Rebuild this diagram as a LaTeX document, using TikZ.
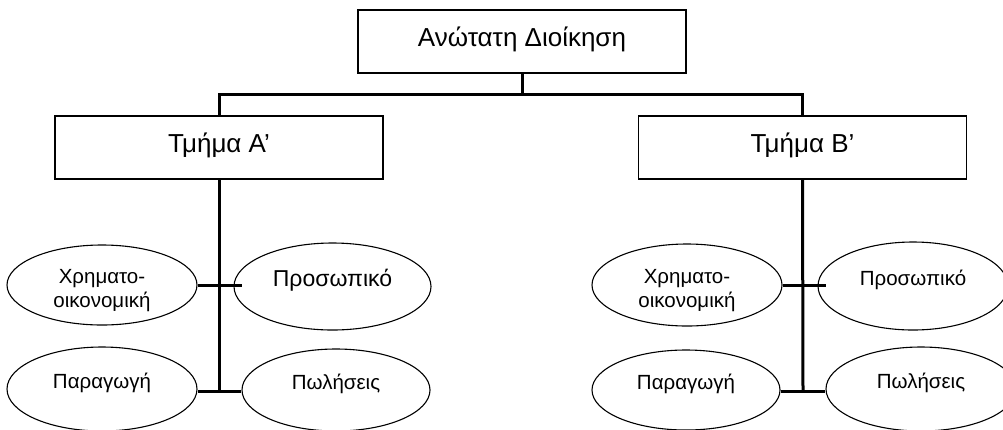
\documentclass[tikz,border=0pt]{standalone}
\usepackage{fontspec}
\setmainfont{Liberation Sans}
\usetikzlibrary{shapes.geometric}
\begin{document}
\begin{tikzpicture}[x=1pt,y=-1pt,
  headbox/.style={draw, line width=1.6pt, minimum width=328pt, inner sep=0pt,
    font=\fontsize{26}{30}\selectfont, text height=36.5pt, text depth=26.5pt},
  unit/.style={ellipse, draw, line width=1.1pt, minimum width=190pt, minimum height=84pt,
    inner sep=0pt, font=\fontsize{20.5}{24}\selectfont},
  oneline/.style={text height=12pt, text depth=13pt},
  twoline/.style={text width=120pt, align=center, text height=20pt, text depth=24pt},
  link/.style={line width=3pt}]
\useasboundingbox (0,0) rectangle (1003,429);
\clip (0,0) rectangle (1003,429);

% management levels
\node[headbox] (top) at (522,41.5) {Ανώτατη Διοίκηση};
\node[headbox] (A) at (219,147.5) {Τμήμα Α’};
\node[headbox] (B) at (802.5,147.5) {Τμήμα Β’};

% departments under A
\node[unit, twoline, minimum height=80pt] (fa) at (102,285) {Χρηματο-\\οικονομική};
\node[unit, oneline, minimum width=197pt, minimum height=87pt,
      font=\fontsize{23}{27}\selectfont] (pa) at (332.5,286.5) {Προσωπικό};
\node[unit, oneline] (ga) at (102,389) {Παραγωγή};
\node[unit, oneline, minimum width=188pt, minimum height=82pt] (sa) at (336,390) {Πωλήσεις};

% departments under B
\node[unit, twoline, minimum height=82pt] (fb) at (687,285) {Χρηματο-\\οικονομική};
\node[unit, oneline, minimum height=88pt] (pb) at (913,286) {Προσωπικό};
\node[unit, oneline, minimum width=188pt, minimum height=80pt] (gb) at (686,390) {Παραγωγή};
\node[unit, oneline] (sb) at (921,389) {Πωλήσεις};

% branch points
\coordinate (bar) at (522,94);
\coordinate (endA) at (219,391);
\coordinate (endB) at (803,391);
\coordinate (upA) at (242,285);
\coordinate (upB) at (826,285);

% top level connectors
\draw[link] (top.south) -- (bar);
\draw[link] (bar) -| (A.north);
\draw[link] (bar) -| (B.north);

% trunk and branches of A
\draw[link] (A.south) -- (endA);
\draw[link] (fa.east |- upA) -- (upA);
\draw[link] (ga.east |- endA) -- (sa.west |- endA);

% trunk and branches of B
\draw[link] (B.south) -- (endB);
\draw[link] (fb.east |- upB) -- (upB);
\draw[link] (gb.east |- endB) -- (sb.west |- endB);
\end{tikzpicture}
\end{document}
